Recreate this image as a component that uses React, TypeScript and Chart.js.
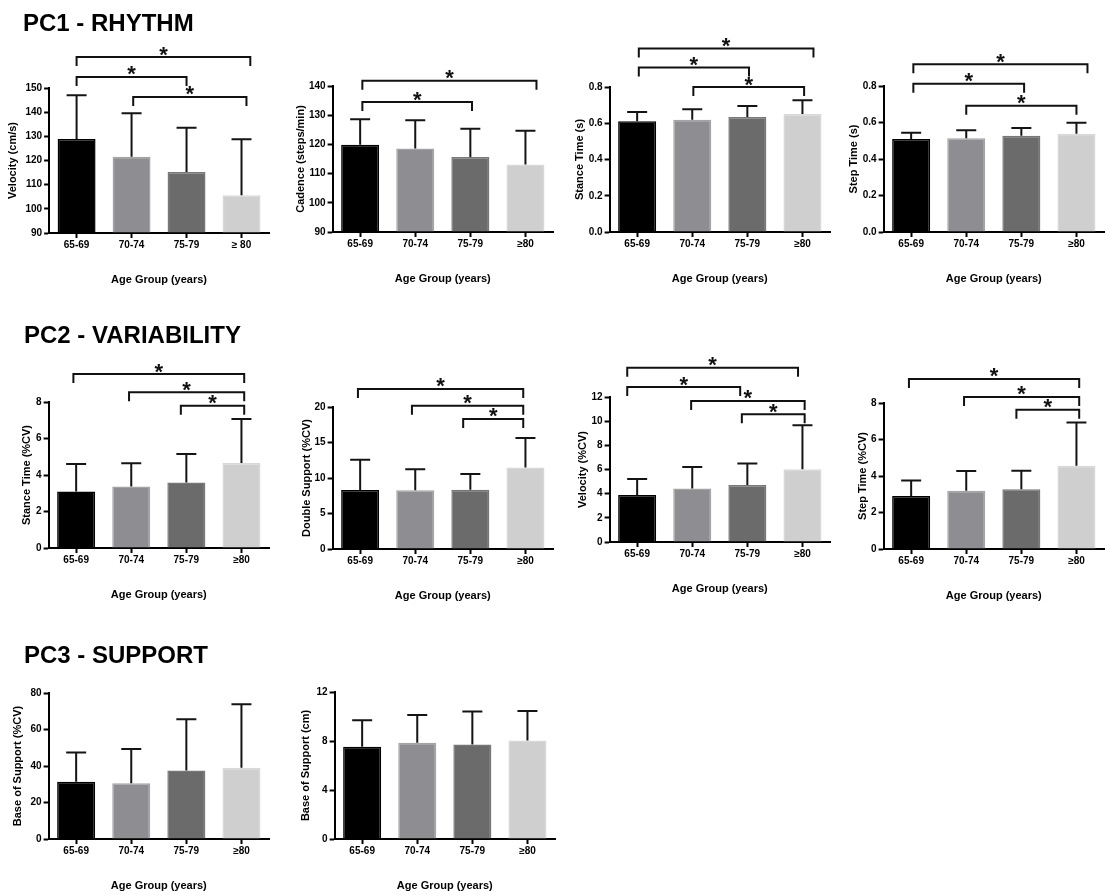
import React, { useEffect, useRef } from 'react';
import { Chart, registerables } from 'chart.js';

Chart.register(...registerables);

const FONT = "Arial, 'Liberation Sans', Helvetica, sans-serif";
Chart.defaults.color = '#000';
Chart.defaults.font.family = FONT;

// ---------- DATA ----------
const AGE_GROUPS = ['65-69', '70-74', '75-79', '≥80'];
const AGE_GROUPS_SPACED = ['65-69', '70-74', '75-79', '≥ 80'];

// PC1 - RHYTHM
const VELOCITY_MEAN = [128.9, 121.6, 115.2, 105.6];
const VELOCITY_SD = [18.1, 18.0, 18.4, 23.2];
const VELOCITY_SIG = [[0, 3.16, 162.8], [0, 2, 154.6], [1.03, 3.09, 146.3]];

const CADENCE_MEAN = [119.9, 118.6, 115.7, 113.1];
const CADENCE_SD = [8.7, 9.7, 9.7, 11.6];
const CADENCE_SIG = [[0.04, 3.2, 141.8], [0.04, 2.03, 134.5]];

const STANCE_S_MEAN = [0.611, 0.62, 0.634, 0.651];
const STANCE_S_SD = [0.051, 0.057, 0.061, 0.076];
const STANCE_S_SIG = [[0.03, 3.2, 1.012], [0.03, 2.03, 0.907], [1.02, 3.03, 0.8]];

const STEP_S_MEAN = [0.509, 0.514, 0.527, 0.538];
const STEP_S_SD = [0.035, 0.043, 0.043, 0.06];
const STEP_S_SIG = [[0.04, 3.2, 0.919], [0.04, 2.05, 0.813], [1.0, 3.0, 0.692]];

// PC2 - VARIABILITY
const STANCE_CV_MEAN = [3.1, 3.37, 3.59, 4.66];
const STANCE_CV_SD = [1.5, 1.27, 1.56, 2.41];
const STANCE_CV_SIG = [[-0.05, 3.05, 9.53], [0.96, 3.05, 8.53], [1.9, 3.05, 7.8]];

const DS_CV_MEAN = [8.32, 8.28, 8.36, 11.47];
const DS_CV_SD = [4.24, 2.97, 2.22, 4.15];
const DS_CV_SIG = [[-0.04, 2.96, 22.54], [0.94, 2.96, 20.18], [1.87, 2.96, 18.31]];

const VEL_CV_MEAN = [3.9, 4.42, 4.72, 6.02];
const VEL_CV_SD = [1.32, 1.79, 1.77, 3.65];
const VEL_CV_SIG = [[-0.18, 2.92, 14.42], [-0.18, 1.87, 12.82], [0.98, 3.04, 11.67], [1.9, 3.04, 10.58]];

const STEP_CV_MEAN = [2.91, 3.19, 3.28, 4.56];
const STEP_CV_SD = [0.84, 1.09, 1.01, 2.37];
const STEP_CV_SIG = [[-0.04, 3.05, 9.32], [0.96, 3.05, 8.33], [1.91, 3.05, 7.63]];

// PC3 - SUPPORT
const BOS_CV_MEAN = [31.4, 30.5, 37.5, 39.1];
const BOS_CV_SD = [16.0, 18.8, 28.1, 34.7];

const BOS_CM_MEAN = [7.53, 7.86, 7.72, 8.04];
const BOS_CM_SD = [2.17, 2.27, 2.68, 2.41];

// ---------- STYLE ----------
const BAR_FILLS = ['#000000', '#8e8e92', '#6b6b6b', '#cfcfcf'];
const BAR_EDGES = ['#000000', '#a4a4a7', '#777777', '#d8d8d8'];

const SECTION_TITLES = [
  { text: 'PC1 - RHYTHM', left: 23, top: 11 },
  { text: 'PC2 - VARIABILITY', left: 24, top: 323 },
  { text: 'PC3 - SUPPORT', left: 24, top: 643 },
];

const PAD_TOP = 60;
const X_H = 58;
const PLOT_W = 220;
const PAD_RIGHT = 2;
const X_TITLE_OFFSET = 46.5;

const PANELS = [
  { labels: AGE_GROUPS_SPACED, means: VELOCITY_MEAN, sd: VELOCITY_SD, sig: VELOCITY_SIG, yTitle: 'Velocity (cm/s)', yMin: 90, yMax: 150, step: 10, dec: 0, axisX: 49, plotTop: 88, plotBottom: 233, yTitleX: 12.5 },
  { labels: AGE_GROUPS, means: CADENCE_MEAN, sd: CADENCE_SD, sig: CADENCE_SIG, yTitle: 'Cadence (steps/min)', yMin: 90, yMax: 140, step: 10, dec: 0, axisX: 333, plotTop: 86, plotBottom: 232, yTitleX: 301 },
  { labels: AGE_GROUPS, means: STANCE_S_MEAN, sd: STANCE_S_SD, sig: STANCE_S_SIG, yTitle: 'Stance Time (s)', yMin: 0, yMax: 0.8, step: 0.2, dec: 1, axisX: 610, plotTop: 87, plotBottom: 232, yTitleX: 580 },
  { labels: AGE_GROUPS, means: STEP_S_MEAN, sd: STEP_S_SD, sig: STEP_S_SIG, yTitle: 'Step Time (s)', yMin: 0, yMax: 0.8, step: 0.2, dec: 1, axisX: 884, plotTop: 86, plotBottom: 232, yTitleX: 854 },
  { labels: AGE_GROUPS, means: STANCE_CV_MEAN, sd: STANCE_CV_SD, sig: STANCE_CV_SIG, yTitle: 'Stance Time (%CV)', yMin: 0, yMax: 8, step: 2, dec: 0, axisX: 49, plotTop: 402, plotBottom: 548, yTitleX: 27 },
  { labels: AGE_GROUPS, means: DS_CV_MEAN, sd: DS_CV_SD, sig: DS_CV_SIG, yTitle: 'Double Support (%CV)', yMin: 0, yMax: 20, step: 5, dec: 0, axisX: 333, plotTop: 407, plotBottom: 549, yTitleX: 307 },
  { labels: AGE_GROUPS, means: VEL_CV_MEAN, sd: VEL_CV_SD, sig: VEL_CV_SIG, yTitle: 'Velocity (%CV)', yMin: 0, yMax: 12, step: 2, dec: 0, axisX: 610, plotTop: 397, plotBottom: 542, yTitleX: 583 },
  { labels: AGE_GROUPS, means: STEP_CV_MEAN, sd: STEP_CV_SD, sig: STEP_CV_SIG, yTitle: 'Step Time (%CV)', yMin: 0, yMax: 8, step: 2, dec: 0, axisX: 884, plotTop: 403, plotBottom: 549, yTitleX: 863 },
  { labels: AGE_GROUPS, means: BOS_CV_MEAN, sd: BOS_CV_SD, sig: [], yTitle: 'Base of Support (%CV)', yMin: 0, yMax: 80, step: 20, dec: 0, axisX: 49, plotTop: 693, plotBottom: 839, yTitleX: 18 },
  { labels: AGE_GROUPS, means: BOS_CM_MEAN, sd: BOS_CM_SD, sig: [], yTitle: 'Base of Support (cm)', yMin: 0, yMax: 12, step: 4, dec: 0, axisX: 335, plotTop: 692, plotBottom: 839, yTitleX: 306 },
];

function Panel({ spec }: { spec: any }) {
  const ref = useRef<HTMLCanvasElement | null>(null);
  const yW = spec.axisX - spec.yTitleX + 6.6;
  const left = spec.axisX - yW;
  const top = spec.plotTop - PAD_TOP;
  const w = Math.round(yW + PLOT_W + PAD_RIGHT);
  const h = Math.round(PAD_TOP + (spec.plotBottom - spec.plotTop) + X_H);

  useEffect(() => {
    if (!ref.current) return;
    const errorBars = {
      id: 'errorBars',
      afterDatasetsDraw(chart: any) {
        const meta = chart.getDatasetMeta(0);
        const ys = chart.scales.y;
        const ctx = chart.ctx;
        ctx.save();
        ctx.strokeStyle = '#141414';
        ctx.lineWidth = 2;
        ctx.lineCap = 'butt';
        meta.data.forEach((bar: any, i: number) => {
          const m = spec.means[i];
          const yb = ys.getPixelForValue(m);
          const yt = ys.getPixelForValue(m + spec.sd[i]);
          ctx.beginPath();
          ctx.moveTo(bar.x, yb);
          ctx.lineTo(bar.x, yt);
          ctx.moveTo(bar.x - 10, yt);
          ctx.lineTo(bar.x + 10, yt);
          ctx.stroke();
        });
        ctx.restore();
      },
    };
    const brackets = {
      id: 'brackets',
      afterDraw(chart: any) {
        const xs = chart.scales.x;
        const ys = chart.scales.y;
        const ctx = chart.ctx;
        ctx.save();
        ctx.strokeStyle = '#111';
        ctx.fillStyle = '#111';
        ctx.lineWidth = 2;
        ctx.lineJoin = 'miter';
        ctx.font = `bold 22px ${FONT}`;
        ctx.textAlign = 'center';
        ctx.textBaseline = 'alphabetic';
        for (const [a, b, v] of spec.sig) {
          const x1 = xs.getPixelForValue(a);
          const x2 = xs.getPixelForValue(b);
          const yy = ys.getPixelForValue(v);
          ctx.beginPath();
          ctx.moveTo(x1, yy + 9);
          ctx.lineTo(x1, yy);
          ctx.lineTo(x2, yy);
          ctx.lineTo(x2, yy + 9);
          ctx.stroke();
          ctx.fillText('*', (x1 + x2) / 2, yy + 4.5);
        }
        ctx.restore();
      },
    };

    const chart = new Chart(ref.current, {
      type: 'bar',
      data: {
        labels: spec.labels,
        datasets: [
          {
            data: spec.means,
            backgroundColor: BAR_FILLS,
            borderColor: BAR_EDGES,
            borderWidth: 1.5,
            base: spec.yMin,
            barPercentage: 0.69,
            categoryPercentage: 1,
          } as any,
        ],
      },
      options: {
        animation: false,
        responsive: false,
        devicePixelRatio: 1,
        layout: { autoPadding: false, padding: { top: PAD_TOP, right: PAD_RIGHT, left: 0, bottom: 0 } } as any,
        plugins: { legend: { display: false }, tooltip: { enabled: false }, title: { display: false } },
        scales: {
          x: {
            offset: true,
            grid: { display: true, offset: false, drawOnChartArea: false, drawTicks: true, tickLength: 5, tickWidth: 2, tickColor: '#000' },
            border: { display: true, color: '#000', width: 2 },
            ticks: { color: '#000', font: { size: 10, weight: 'bold', family: FONT }, padding: 1, autoSkip: false, maxRotation: 0 },
            title: {
              display: true,
              text: 'Age Group (years)',
              color: '#000',
              font: { size: 11, weight: 'bold', family: FONT },
              padding: { top: 0, bottom: X_H - X_TITLE_OFFSET - 6.6 },
            },
            afterFit: (s: any) => { s.height = X_H; },
          },
          y: {
            min: spec.yMin,
            max: spec.yMax,
            grid: { display: true, drawOnChartArea: false, drawTicks: true, tickLength: 5, tickWidth: 2, tickColor: '#000' },
            border: { display: true, color: '#000', width: 2 },
            ticks: {
              stepSize: spec.step,
              color: '#000',
              font: { size: 10, weight: 'bold', family: FONT },
              padding: 2,
              callback: (v: any) => Number(v).toFixed(spec.dec),
            },
            title: {
              display: true,
              text: spec.yTitle,
              color: '#000',
              font: { size: 11, weight: 'bold', family: FONT },
              padding: 0,
            },
            afterFit: (s: any) => { s.width = yW; },
          },
        },
      } as any,
      plugins: [errorBars, brackets],
    });
    return () => chart.destroy();
  }, []);

  return (
    <canvas
      ref={ref}
      width={w}
      height={h}
      style={{ position: 'absolute', left, top, width: w, height: h }}
    />
  );
}

export default function App() {
  return (
    <div
      style={{
        position: 'absolute',
        left: 0,
        top: 0,
        width: 1105,
        height: 895,
        overflow: 'hidden',
        background: '#fff',
        fontFamily: FONT,
      }}
    >
      {PANELS.map((p, i) => (
        <Panel key={i} spec={p} />
      ))}
      {SECTION_TITLES.map((t, i) => (
        <div
          key={'t' + i}
          style={{
            position: 'absolute',
            left: t.left,
            top: t.top,
            fontSize: 24,
            lineHeight: '24px',
            fontWeight: 'bold',
            color: '#000',
            whiteSpace: 'nowrap',
            zIndex: 2,
          }}
        >
          {t.text}
        </div>
      ))}
    </div>
  );
}
